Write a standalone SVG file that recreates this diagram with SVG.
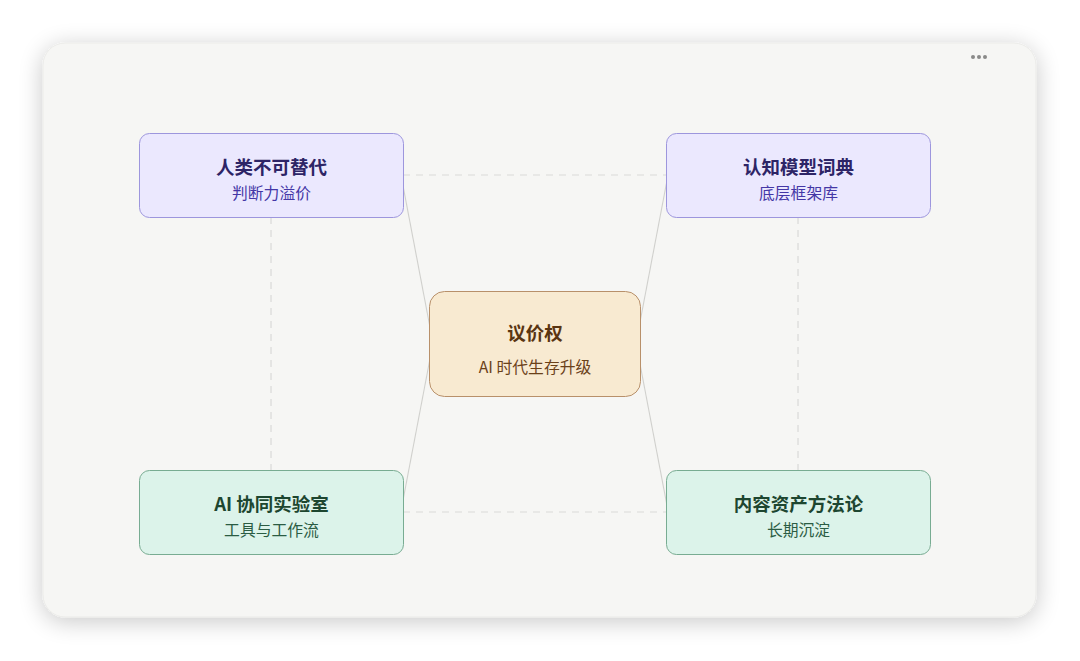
<svg xmlns="http://www.w3.org/2000/svg" width="1080" height="661" viewBox="0 0 1080 661">
<defs>
<filter id="sh" x="-10%" y="-10%" width="120%" height="125%">
<feGaussianBlur in="SourceAlpha" stdDeviation="12"/>
<feOffset dy="4"/>
<feComponentTransfer><feFuncA type="linear" slope="0.22"/></feComponentTransfer>
<feMerge><feMergeNode/><feMergeNode in="SourceGraphic"/></feMerge>
</filter>
</defs>
<style>
text{font-family:"Noto Sans CJK SC","Liberation Sans",sans-serif;text-anchor:middle}
.t{font-size:18.5px;font-weight:700}
.s{font-size:15.8px}
.purple rect{fill:#ebe8fe;stroke:#9d96dd;stroke-width:1}
.purple .t{fill:#2d2466}
.purple .s{fill:#4437a6}
.green rect{fill:#dcf3ea;stroke:#78ac92;stroke-width:1}
.green .t{fill:#1d4630}
.green .s{fill:#2b5c43}
.center rect{fill:#f8ead1;stroke:#b8906a;stroke-width:1}
.center .t{fill:#5a3511}
.center .s{fill:#6b4119}
.dash{stroke:#d9d9d7;stroke-width:1.2;stroke-dasharray:7 6;fill:none}
.solid{stroke:#d0d0cd;stroke-width:1.1;fill:none}
</style>
<rect width="1080" height="661" fill="#ffffff"/>
<rect x="43" y="43" width="993" height="574" rx="22" fill="#f6f6f4" stroke="#ebebe8" filter="url(#sh)"/>
<g fill="#8a8a88">
<circle cx="973" cy="57" r="2"/><circle cx="979" cy="57" r="2"/><circle cx="985" cy="57" r="2"/>
</g>
<g id="connectors">
<line class="dash" x1="403" y1="175" x2="666" y2="175"/>
<line class="dash" x1="403" y1="512" x2="666" y2="512"/>
<line class="dash" x1="271" y1="217" x2="271" y2="470"/>
<line class="dash" x1="798" y1="217" x2="798" y2="470"/>
<line class="solid" x1="400" y1="170" x2="433" y2="343"/>
<line class="solid" x1="433" y1="343" x2="400" y2="516"/>
<line class="solid" x1="669" y1="170" x2="636" y2="343"/>
<line class="solid" x1="636" y1="343" x2="669" y2="516"/>
</g>
<g id="node-tl" class="purple">
<rect x="139.5" y="133.5" width="264" height="84" rx="10"/>
<text class="t" x="271.5" y="174">人类不可替代</text>
<text class="s" x="271.5" y="199">判断力溢价</text>
</g>
<g id="node-tr" class="purple">
<rect x="666.5" y="133.5" width="264" height="84" rx="10"/>
<text class="t" x="798.5" y="174">认知模型词典</text>
<text class="s" x="798.5" y="199">底层框架库</text>
</g>
<g id="node-bl" class="green">
<rect x="139.5" y="470.5" width="264" height="84" rx="10"/>
<text class="t" x="271.5" y="511">AI 协同实验室</text>
<text class="s" x="271.5" y="536">工具与工作流</text>
</g>
<g id="node-br" class="green">
<rect x="666.5" y="470.5" width="264" height="84" rx="10"/>
<text class="t" x="798.5" y="511">内容资产方法论</text>
<text class="s" x="798.5" y="536">长期沉淀</text>
</g>
<g id="node-center" class="center">
<rect x="429.5" y="291.5" width="211" height="105" rx="15"/>
<text class="t" x="535" y="340">议价权</text>
<text class="s" x="535" y="373">AI 时代生存升级</text>
</g>
</svg>
